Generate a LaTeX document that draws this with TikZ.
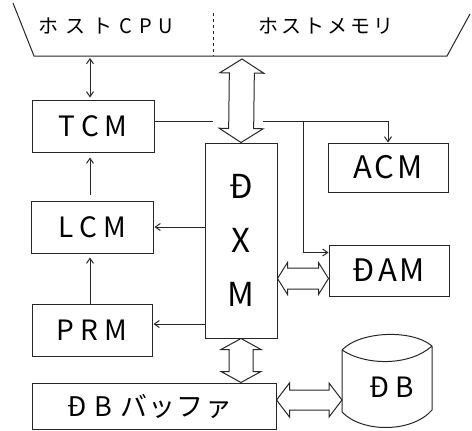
\documentclass[tikz,border=0pt]{standalone}
\usepackage{fontspec}
\setmainfont{Noto Sans CJK JP}
\usetikzlibrary{calc,arrows.meta}
\tikzset{
  ln/.style={line width=1pt, draw=black!85},
  box/.style={ln, draw, rectangle, inner sep=0pt},
  thinarr/.style={ln, -{Straight Barb[length=5pt,width=7pt]}},
  botharr/.style={ln, {Straight Barb[length=5pt,width=7pt]}-{Straight Barb[length=5pt,width=7pt]}},
  hollow/.style={ln, fill=white, line join=miter},
  smalllbl/.style={font=\fontsize{28}{28}\selectfont},
  biglbl/.style={font=\fontsize{31}{31}\selectfont},
  hostlbl/.style={font=\fontsize{20}{20}\selectfont},
}
% #1 start, #2 end, #3 head half width, #4 shaft half width, #5 head length
\newcommand\hollowarrow[5]{%
  \path ($(#1)!#5!(#2)$) coordinate (ha) ($(#2)!#5!(#1)$) coordinate (hb);
  \draw[hollow] (#1) -- ($(ha)!#3!90:(#2)$) -- ($(ha)!#4!90:(#2)$)
    -- ($(hb)!#4!-90:(#1)$) -- ($(hb)!#3!-90:(#1)$) -- (#2)
    -- ($(hb)!#3!90:(#1)$) -- ($(hb)!#4!90:(#1)$)
    -- ($(ha)!#4!-90:(#2)$) -- ($(ha)!#3!-90:(#2)$) -- cycle;
}
\begin{document}
\begin{tikzpicture}[x=1pt,y=-1pt]
\useasboundingbox (0,0) rectangle (472,431);
% host
\coordinate (busL) at (34,56);
\coordinate (busR) at (447,56);
\coordinate (hostTL) at (13,3);
\coordinate (hostTR) at (470,14);
\draw[ln] (hostTL) -- (busL) -- (busR) -- (hostTR);
\coordinate (divT) at (213,13);
\draw[ln, dash pattern=on 3pt off 3pt] (divT) -- (divT |- busL);
\node[hostlbl] (cpu) at (106,26) {ホ\hspace{7pt}ス\hspace{7pt}ト\hspace{7pt}C\hspace{7pt}P\hspace{7pt}U};
\node[hostlbl] (mem) at (326,26) {ホ\hspace{3pt}ス\hspace{3pt}ト\hspace{3pt}メ\hspace{3pt}モ\hspace{3pt}リ};
% boxes
\node[box, smalllbl, minimum width=122pt, minimum height=52pt] (tcm) at (93,126) {T\hspace{6pt}C\hspace{6pt}M};
\node[box, smalllbl, minimum width=122pt, minimum height=52pt] (lcm) at (92,227) {L\hspace{6pt}C\hspace{6pt}M};
\node[box, smalllbl, minimum width=120pt, minimum height=52pt] (prm) at (92,330) {P\hspace{6pt}R\hspace{6pt}M};
\node[box, align=center, font=\fontsize{33}{54}\selectfont, minimum width=72pt, minimum height=195pt] (dxm) at (241,240.5) {Đ\\X\\M};
\node[box, biglbl, minimum width=120pt, minimum height=49pt] (acm) at (388,167.5) {A\hspace{3pt}C\hspace{3pt}M};
\node[box, biglbl, minimum width=120pt, minimum height=51pt] (dam) at (389,270.5) {Đ\hspace{3pt}A\hspace{3pt}M};
\node[box, minimum width=244pt, minimum height=46pt] (buf) at (154,406) {};
\node[font=\fontsize{27}{27}\selectfont, anchor=west] (buftxt) at (64,407) {Đ\hspace{8pt}B\hspace{8pt}バ\hspace{1pt}ッ\hspace{1pt}フ\hspace{2pt}ァ};
% database cylinder
\node[font=\fontsize{28}{28}\selectfont, minimum width=92pt, minimum height=91pt, inner sep=0pt] (db) at (387,387) {\hspace*{10pt}Đ\hspace{6pt}B};
\draw[ln] (342,350) .. controls (360,331) and (412,329) .. (432,346)
  (342,350) .. controls (366,366) and (410,366) .. (432,346)
  (342,350) -- (342,412) .. controls (362,433) and (412,433) .. (432,410) -- (432,346);
% thin connectors
\draw[botharr] ($(tcm.north |- busL)+(-3,2)$) -- ($(tcm.north)+(-3,-2)$);
\draw[thinarr] ($(lcm.north)+(-2,-6)$) -- ($(tcm.south)+(-3,5)$);
\draw[thinarr] ($(prm.north)+(-2,0)$) -- ($(lcm.south)+(-2,4)$);
\draw[thinarr] (dxm.west |- lcm.east) -- ($(lcm.east)+(1,0)$);
\draw[thinarr] ($(dxm.west |- prm.east)+(0,-6)$) -- ($(prm.east)+(1,-6)$);
\coordinate (t1) at ($(tcm.east)+(0,-5)$);
\coordinate (gapL) at (213,121);
\coordinate (gapR) at (263,121);
\draw[ln] (t1) -- (gapL);
\draw[thinarr] (gapR) -- (gapR -| acm.north) -- (acm.north);
\coordinate (br) at (303,121);
\coordinate (damin) at ($(dam.north west)+(0,8)$);
\draw[thinarr] (br) -- (br |- damin) -- (damin);
% hollow arrows
\coordinate (h1) at ($(dxm.north |- busL)+(1,3)$);
\coordinate (h2) at (dxm.north);
\hollowarrow{h1}{h2}{22pt}{12.5pt}{14pt}
\coordinate (d1) at ($(dxm.east)+(0,38)$);
\coordinate (d2) at (dam.west |- d1);
\hollowarrow{d1}{d2}{16pt}{10.5pt}{10pt}
\coordinate (b1) at (dxm.south);
\coordinate (b2) at (dxm.south |- buf.north);
\hollowarrow{b1}{b2}{20pt}{12pt}{11pt}
\coordinate (e1) at ($(buf.east)+(0,-6)$);
\coordinate (e2) at (342,400);
\hollowarrow{e1}{e2}{17pt}{10pt}{13pt}
\end{tikzpicture}
\end{document}
